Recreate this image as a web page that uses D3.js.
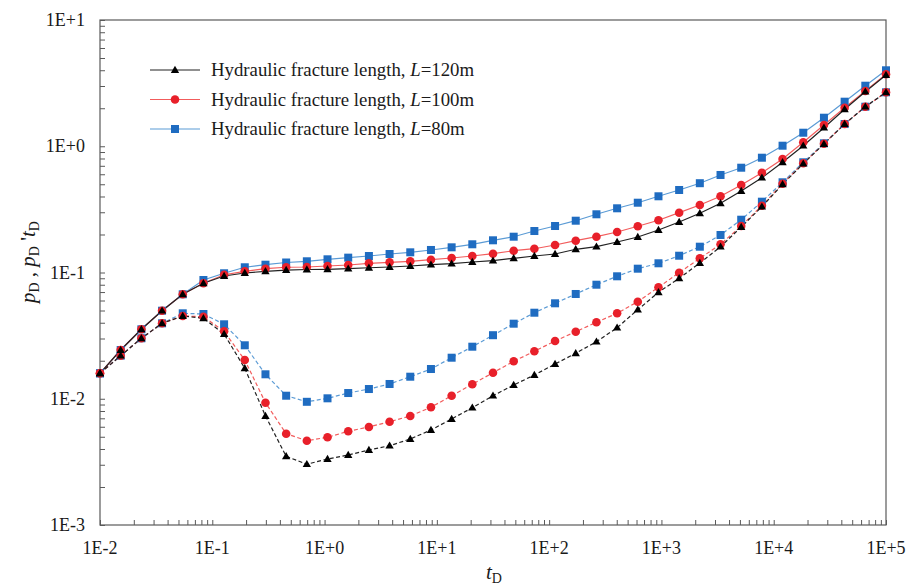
<!DOCTYPE html>
<html>
<head>
<meta charset="utf-8">
<script src="https://cdn.jsdelivr.net/npm/d3@7/dist/d3.min.js"></script>
<style>
  html, body { margin: 0; padding: 0; background: #fff; }
  svg { display: block; }
  svg text { font-family: 'Liberation Serif', 'Times New Roman', serif; }
</style>
</head>
<body>
<svg id="chart" width="912" height="587"></svg>
<script>
// Dimensionless time grid (log-spaced, 39 points)
const tD = [0.01, 0.01528, 0.02336, 0.0357, 0.05456, 0.08338, 0.1274, 0.1947, 0.2976, 0.4549,
  0.6952, 1.062, 1.624, 2.482, 3.793, 5.796, 8.859, 13.54, 20.69, 31.62,
  48.33, 73.86, 112.9, 172.5, 263.7, 403.0, 615.8, 941.2, 1438, 2198,
  3360, 5135, 7848, 11990, 18330, 28010, 42810, 65430, 100000];

// Dimensionless pressure pD
const pD_L120 = [0.0159, 0.02432, 0.03549, 0.04982, 0.06721, 0.08214, 0.09382, 0.09908, 0.1022, 0.1046,
  0.1056, 0.1060, 0.1072, 0.1091, 0.1106, 0.1126, 0.1153, 0.1174, 0.1211, 0.1240,
  0.1296, 0.1351, 0.1401, 0.1527, 0.1601, 0.1744, 0.1911, 0.2171, 0.2512, 0.2944,
  0.3533, 0.4418, 0.5634, 0.7462, 1.010, 1.403, 1.962, 2.705, 3.668];
const pD_L100 = [0.0159, 0.02432, 0.03549, 0.04982, 0.06721, 0.08214, 0.0960, 0.1022, 0.1072, 0.1100,
  0.1106, 0.1126, 0.1147, 0.1183, 0.1204, 0.1227, 0.1263, 0.1303, 0.1351, 0.1409,
  0.1488, 0.1543, 0.1651, 0.1786, 0.1921, 0.2093, 0.2323, 0.2591, 0.2977, 0.3425,
  0.4015, 0.4934, 0.6173, 0.7925, 1.075, 1.473, 2.020, 2.739, 3.714];
const pD_L80 = [0.0159, 0.02432, 0.03549, 0.04982, 0.06721, 0.0872, 0.0986, 0.1100, 0.1153, 0.1200,
  0.1227, 0.1272, 0.1311, 0.1351, 0.1401, 0.1445, 0.1508, 0.1583, 0.1673, 0.1799,
  0.1921, 0.2131, 0.2335, 0.2572, 0.2891, 0.3225, 0.3571, 0.4015, 0.4503, 0.5097,
  0.5922, 0.6761, 0.8114, 1.010, 1.280, 1.683, 2.254, 3.017, 3.996];

// Pressure derivative pD' tD
const dpD_L120 = [0.0159, 0.02193, 0.03012, 0.03959, 0.04522, 0.04337, 0.03257, 0.01742, 0.007302, 0.003501,
  0.00303, 0.003333, 0.003585, 0.003927, 0.004246, 0.0048, 0.005656, 0.006913, 0.008495, 0.01057,
  0.01285, 0.01542, 0.01884, 0.02291, 0.0283, 0.03654, 0.05074, 0.06969, 0.08998, 0.1189,
  0.1601, 0.2293, 0.3321, 0.4996, 0.7273, 1.042, 1.500, 2.057, 2.675];
const dpD_L100 = [0.0159, 0.02193, 0.03012, 0.03959, 0.04522, 0.04467, 0.03421, 0.02027, 0.009305, 0.005287,
  0.004653, 0.004951, 0.005526, 0.005974, 0.00658, 0.007302, 0.008557, 0.01057, 0.01302, 0.01608,
  0.01979, 0.02376, 0.02867, 0.03396, 0.04032, 0.04751, 0.05871, 0.07633, 0.09964, 0.1296,
  0.1673, 0.2335, 0.3381, 0.5052, 0.7328, 1.048, 1.500, 2.057, 2.675];
const dpD_L80 = [0.0159, 0.02193, 0.03012, 0.03959, 0.04751, 0.04691, 0.03888, 0.02651, 0.01562, 0.01057,
  0.009458, 0.01008, 0.0111, 0.01194, 0.01309, 0.01495, 0.0172, 0.02114, 0.02584, 0.03187,
  0.03931, 0.04803, 0.05702, 0.06758, 0.08004, 0.09331, 0.1072, 0.1183, 0.1358, 0.1601,
  0.1982, 0.2619, 0.3638, 0.5183, 0.7462, 1.055, 1.500, 2.057, 2.675];

const xTickLabels = ["1E-2", "1E-1", "1E+0", "1E+1", "1E+2", "1E+3", "1E+4", "1E+5"];
const yTickLabels = ["1E-3", "1E-2", "1E-1", "1E+0", "1E+1"];
const legendLabels = ["120m", "100m", "80m"];

const FONT = "'Liberation Serif', 'Times New Roman', serif";
const svg = d3.select("#chart");
const plotLeft = 100, plotRight = 886, plotTop = 20, plotBottom = 525;

const x = d3.scaleLog().domain([1e-2, 1e5]).range([plotLeft, plotRight]);
const y = d3.scaleLog().domain([1e-3, 1e1]).range([plotBottom, plotTop]);

const frameColor = "#5a5a5a";
const textColor = "#1a1a1a";

// minor + major ticks pointing inward
const xTicks = [];
for (let e = -2; e < 5; e++) for (let m = 1; m <= 9; m++) xTicks.push(m * Math.pow(10, e));
xTicks.push(1e5);
const yTicks = [];
for (let e = -3; e < 1; e++) for (let m = 1; m <= 9; m++) yTicks.push(m * Math.pow(10, e));
yTicks.push(10);

const xAxis = d3.axisBottom(x).tickValues(xTicks).tickSizeInner(-5).tickSizeOuter(0).tickFormat("");
const yAxis = d3.axisLeft(y).tickValues(yTicks).tickSizeInner(-5).tickSizeOuter(0).tickFormat("");

const gx = svg.append("g").attr("transform", `translate(0,${plotBottom})`).call(xAxis);
const gy = svg.append("g").attr("transform", `translate(${plotLeft},0)`).call(yAxis);
[gx, gy].forEach(g => {
  g.select(".domain").remove();
  g.selectAll(".tick line").attr("stroke", frameColor).attr("stroke-width", 1);
});

// frame
svg.append("rect")
  .attr("x", plotLeft).attr("y", plotTop)
  .attr("width", plotRight - plotLeft).attr("height", plotBottom - plotTop)
  .attr("fill", "none").attr("stroke", frameColor).attr("stroke-width", 1.2);

// tick labels
const xMajors = d3.range(-2, 6).map(e => Math.pow(10, e));
svg.append("g").selectAll("text").data(xMajors).join("text")
  .attr("x", d => x(d)).attr("y", plotBottom + 29)
  .attr("text-anchor", "middle").attr("font-size", 18).attr("fill", textColor)
  .style("font-family", FONT)
  .text((d, i) => xTickLabels[i]);

const yMajors = d3.range(-3, 2).map(e => Math.pow(10, e));
svg.append("g").selectAll("text").data(yMajors).join("text")
  .attr("x", plotLeft - 15).attr("y", d => y(d) + 6)
  .attr("text-anchor", "end").attr("font-size", 18).attr("fill", textColor)
  .style("font-family", FONT)
  .text((d, i) => yTickLabels[i]);

// axis titles
const xt = svg.append("text").attr("x", 494).attr("y", 579).attr("text-anchor", "middle")
  .attr("font-size", 21).attr("fill", textColor).style("font-family", FONT);
xt.append("tspan").attr("font-style", "italic").text("t");
xt.append("tspan").attr("font-size", 14).attr("dy", 4).text("D");

const yt = svg.append("text")
  .attr("transform", "translate(35,262) rotate(-90)")
  .attr("text-anchor", "middle").attr("font-size", 21).attr("fill", textColor)
  .style("font-family", FONT);
yt.append("tspan").attr("font-style", "italic").text("p");
yt.append("tspan").attr("font-size", 14).attr("dy", 4).text("D");
yt.append("tspan").attr("dy", -4).text(" , ");
yt.append("tspan").attr("font-style", "italic").text("p");
yt.append("tspan").attr("font-size", 14).attr("dy", 4).text("D");
yt.append("tspan").attr("dy", -4).text(" '");
yt.append("tspan").attr("font-style", "italic").text("t");
yt.append("tspan").attr("font-size", 14).attr("dy", 4).text("D");

// series definitions
const series = [
  { name: "L80", p: pD_L80, d: dpD_L80, line: "#5b9bd5", mark: "#1f6cc1", shape: "square" },
  { name: "L100", p: pD_L100, d: dpD_L100, line: "#f25c5c", mark: "#e8202a", shape: "circle" },
  { name: "L120", p: pD_L120, d: dpD_L120, line: "#222222", mark: "#000000", shape: "triangle" }
];

function drawMarker(g, shape, color, cx, cy) {
  if (shape === "square") {
    g.append("rect").attr("x", cx - 4).attr("y", cy - 4).attr("width", 8).attr("height", 8)
      .attr("fill", color);
  } else if (shape === "circle") {
    g.append("circle").attr("cx", cx).attr("cy", cy).attr("r", 4.3).attr("fill", color);
  } else {
    g.append("path")
      .attr("d", d3.symbol().type(d3.symbolTriangle).size(30)())
      .attr("transform", `translate(${cx},${cy + 0.5})`)
      .attr("fill", color);
  }
}

const line = d3.line().x(d => x(d[0])).y(d => y(d[1]));
const plot = svg.append("g");

series.forEach(s => {
  const pts = tD.map((t, i) => [t, s.p[i]]);
  const dpts = tD.map((t, i) => [t, s.d[i]]);
  plot.append("path").attr("d", line(pts)).attr("fill", "none")
    .attr("stroke", s.line).attr("stroke-width", 1.2);
  plot.append("path").attr("d", line(dpts)).attr("fill", "none")
    .attr("stroke", s.line).attr("stroke-width", 1.2).attr("stroke-dasharray", "4,2.5");
});
series.forEach(s => {
  const g = plot.append("g");
  tD.forEach((t, i) => drawMarker(g, s.shape, s.mark, x(t), y(s.p[i])));
  tD.forEach((t, i) => drawMarker(g, s.shape, s.mark, x(t), y(s.d[i])));
});

// legend
const legendOrder = [series[2], series[1], series[0]];
const lg = svg.append("g");
legendOrder.forEach((s, i) => {
  const ly = 70 + i * 29.5;
  lg.append("line").attr("x1", 150).attr("x2", 200).attr("y1", ly).attr("y2", ly)
    .attr("stroke", s.line).attr("stroke-width", 1.2);
  drawMarker(lg, s.shape, s.mark, 175, ly);
  const tx = lg.append("text").attr("x", 211).attr("y", ly + 6)
    .attr("font-size", 18.8).attr("fill", textColor).style("font-family", FONT);
  tx.append("tspan").text("Hydraulic fracture length, ");
  tx.append("tspan").attr("font-style", "italic").text("L");
  tx.append("tspan").text("=" + legendLabels[i]);
});
</script>
</body>
</html>
